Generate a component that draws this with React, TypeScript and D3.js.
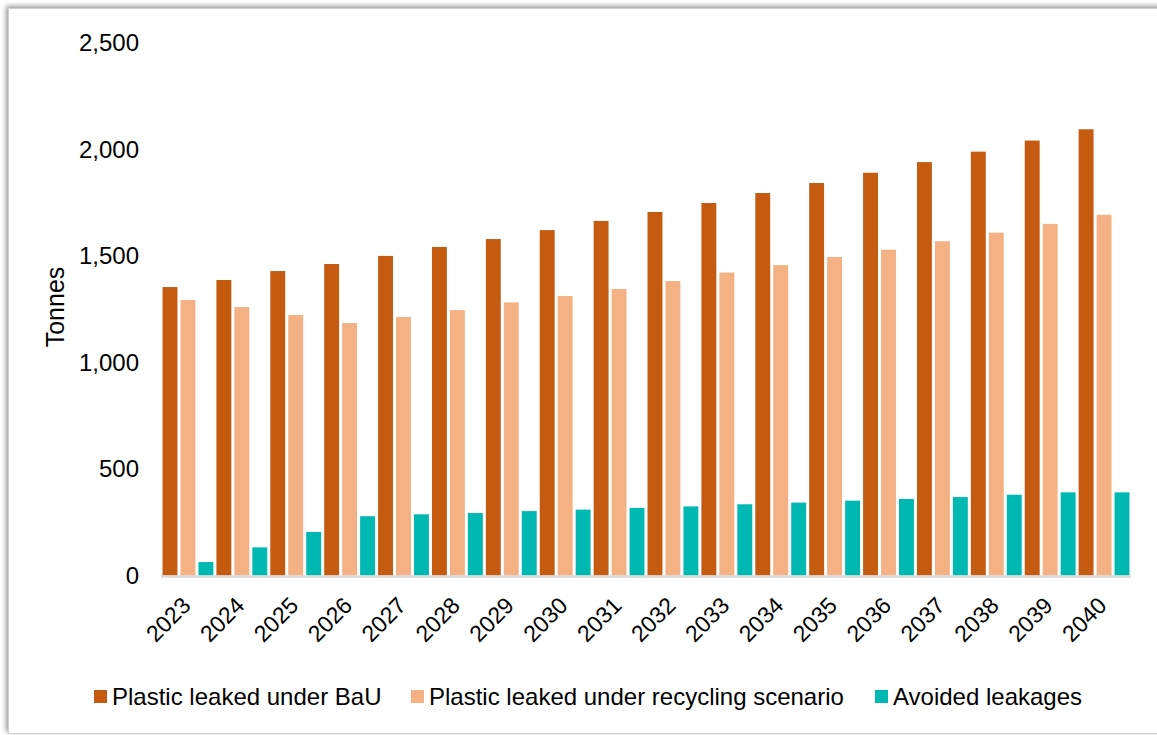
import React from "react";
import * as d3 from "d3";

const years = ["2023","2024","2025","2026","2027","2028","2029","2030","2031","2032","2033","2034","2035","2036","2037","2038","2039","2040"];
const bau = [1353,1386,1428,1461,1499,1541,1578,1620,1663,1705,1747,1794,1841,1889,1939,1988,2040,2093];
const recycling = [1292,1259,1222,1184,1213,1245,1281,1311,1344,1381,1421,1456,1494,1528,1568,1608,1649,1692];
const avoided = [63,132,204,278,287,293,302,309,317,324,334,342,351,359,368,379,390,390];
const yTicks = [0,500,1000,1500,2000,2500];
const seriesNames = ["Plastic leaked under BaU","Plastic leaked under recycling scenario","Avoided leakages"];
const seriesColors = ["#C55A11","#F4B183","#00B8B2"];

export default function App() {
  const W = 1157, H = 735;
  const x0 = 161, x1 = 1131, yBase = 575.5, yTop = 42.5;
  const x = d3.scaleBand<string>().domain(years).range([x0, x1]).paddingInner(0).paddingOuter(0);
  const inner = d3.scaleBand<number>().domain([0,1,2]).range([0, x.bandwidth()]).paddingInner(0.17).paddingOuter(0.085);
  const y = d3.scaleLinear().domain([0, 2500]).range([yBase, yTop]);
  const fmt = d3.format(",");
  const series = [bau, recycling, avoided];
  const font = "'Liberation Sans', Arial, sans-serif";
  const legendX = [94, 411, 875];

  return (
    <svg width={W} height={H} style={{ position: "absolute", left: 0, top: 0, background: "#fff" }} fontFamily={font}>
      <defs>
        <filter id="sh" x="-5%" y="-5%" width="110%" height="110%">
          <feDropShadow dx="-2" dy="-2" stdDeviation="2.5" floodColor="#000" floodOpacity="0.4" />
        </filter>
      </defs>
      <rect x={0} y={0} width={W} height={H} fill="#fff" />
      <rect x={8.5} y={8.5} width={W + 20} height={H - 10} fill="#fff" stroke="#d0d0d0" strokeWidth={1} filter="url(#sh)" />
      {yTicks.map(t => (
        <text key={t} x={139} y={y(t)} dy="0.35em" textAnchor="end" fontSize={24} fill="#000">{fmt(t)}</text>
      ))}
      <text transform={`translate(64,307) rotate(-90)`} textAnchor="middle" fontSize={25} fill="#000">Tonnes</text>
      {series.map((vals, si) => (
        <g key={si}>
          {vals.map((v, i) => (
            <rect key={i} x={(x(years[i]) as number) + (inner(si) as number)} y={y(v)} width={inner.bandwidth()} height={yBase - y(v)} fill={seriesColors[si]} />
          ))}
        </g>
      ))}
      <line x1={x0} x2={x1} y1={yBase + 1} y2={yBase + 1} stroke="#D9D9D9" strokeWidth={2.5} />
      {years.map(yr => {
        const cx = (x(yr) as number) + x.bandwidth() / 2 + 4;
        return (
          <text key={yr} transform={`translate(${cx},607) rotate(-45)`} textAnchor="end" fontSize={23} fill="#000">{yr}</text>
        );
      })}
      {seriesNames.map((n, i) => (
        <g key={n}>
          <rect x={legendX[i]} y={690} width={13} height={13} fill={seriesColors[i]} />
          <text x={legendX[i] + 18} y={705} fontSize={24} fill="#000">{n}</text>
        </g>
      ))}
    </svg>
  );
}
